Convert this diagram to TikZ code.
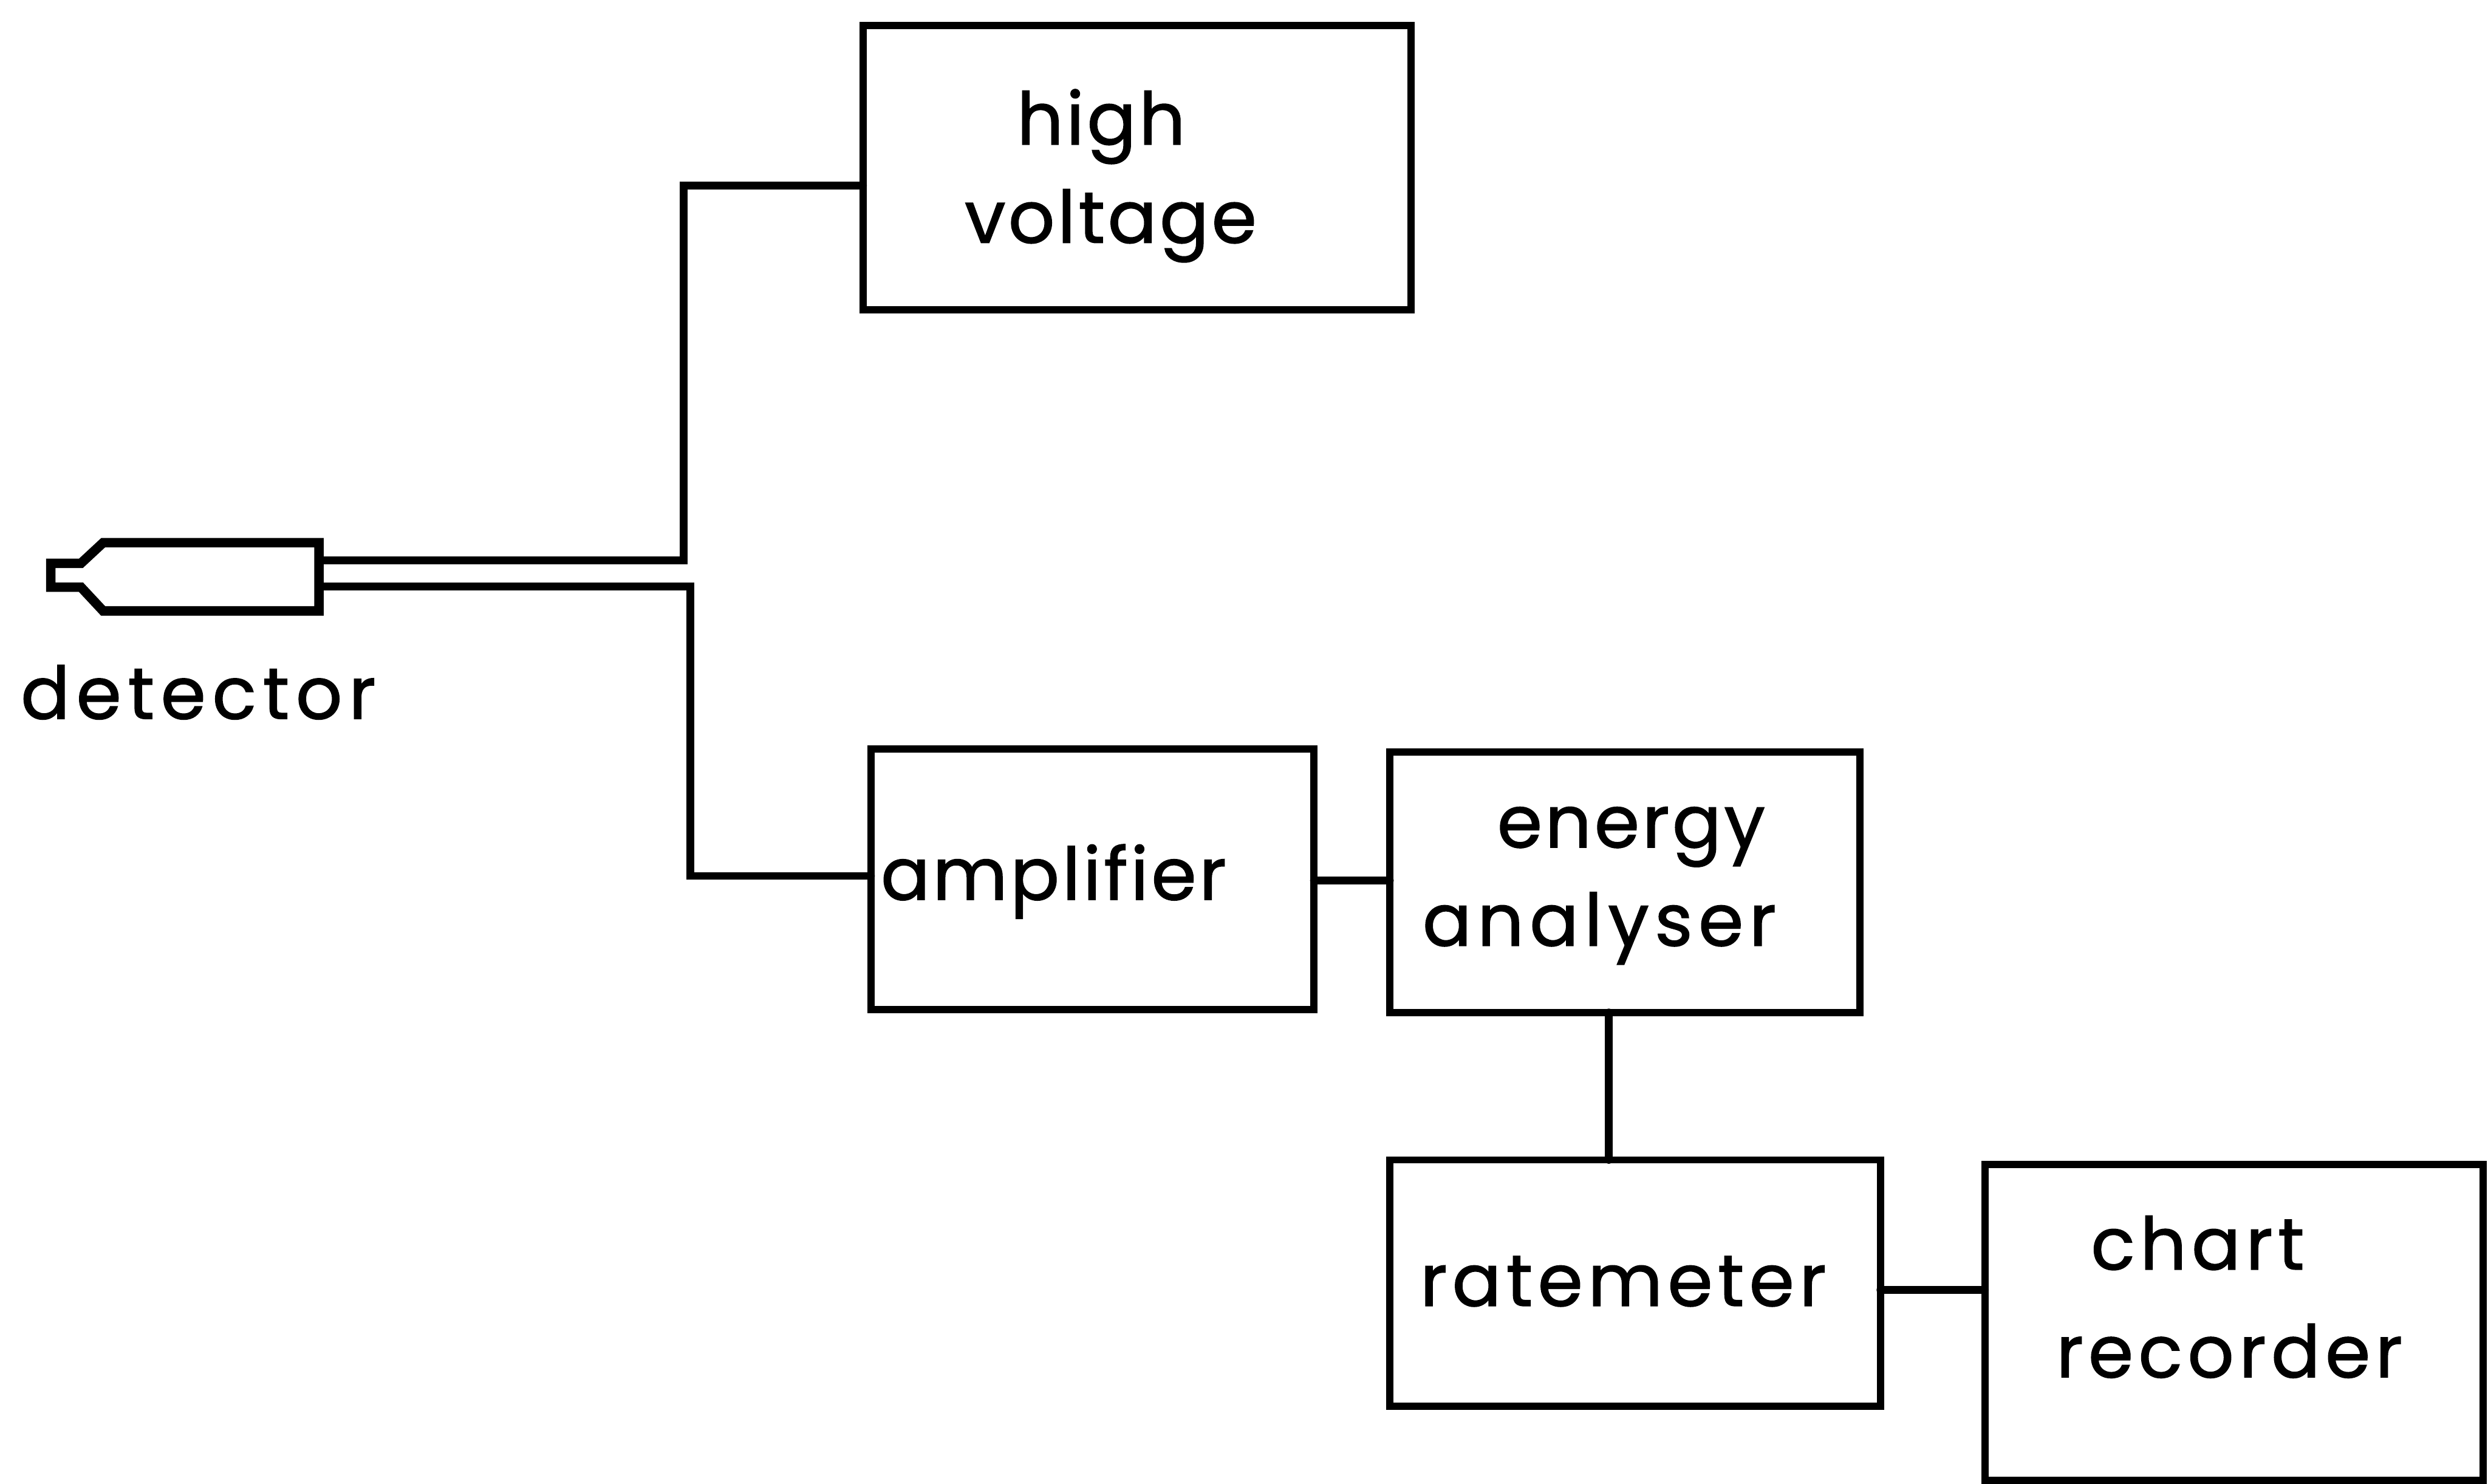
\documentclass[tikz,border=0pt]{standalone}
\usepackage{fontspec}
\setmainfont{Poppins}
\begin{document}
\begin{tikzpicture}[x=0.01cm,y=-0.01cm,
  blockbox/.style={draw=black,line width=1.3pt,rectangle,inner sep=0pt,outer sep=0pt},
  wire/.style={draw=black,line width=1.4pt,line cap=round,line join=miter},
  body/.style={draw=black,line width=1.7pt,line join=miter},
  lab/.style={font=\fontsize{13}{15}\selectfont\addfontfeatures{FakeBold=1.3,LetterSpace=#1},inner sep=0pt,anchor=base},
  lab/.default=4]
\useasboundingbox (0,0) rectangle (1568,935);
\node[blockbox,minimum width=3.45cm,minimum height=1.79cm] (hv) at (716.5,105.5) {};
\node[blockbox,minimum width=2.79cm,minimum height=1.64cm] (amp) at (688.5,554) {};
\node[blockbox,minimum width=2.96cm,minimum height=1.64cm] (ea) at (1024,556) {};
\node[blockbox,minimum width=3.09cm,minimum height=1.55cm] (rate) at (1030.5,808.5) {};
\node[blockbox,minimum width=3.14cm,minimum height=1.99cm] (chart) at (1408,833.5) {};
\node[lab] (t1) at (694,91) {high};
\node[lab] (t2) at (700,153) {voltage};
\node[lab] (t3) at (664,567) {amplifier};
\node[lab] (t4) at (1028,534) {energy};
\node[lab=8] (t5) at (1008,596) {analyser};
\node[lab=7] (t6) at (1023,823) {ratemeter};
\node[lab=7] (t7) at (1385,800) {chart};
\node[lab=7] (t8) at (1405,868) {recorder};
\node[lab=9] (t9) at (125,453) {detector};
% detector
\draw[body] (201,342) -- (65,342) -- (51,355) -- (32,355) -- (32,370) -- (51,370) -- (65,385) -- (201,385) -- cycle;
\coordinate (dtop) at (201,353);
\coordinate (dbot) at (201,369.5);
\coordinate (ja) at (431,353);
\coordinate (jb) at (431,117);
\coordinate (jc) at (435,369.5);
\coordinate (jd) at (435,552);
\coordinate (ae) at (850,555);
\coordinate (er) at (1014,680);
\coordinate (rc) at (1218,813);
\draw[wire] (dtop) -- (ja) -- (jb) -- (jb -| hv.west);
\draw[wire] (dbot) -- (jc) -- (jd) -- (jd -| amp.west);
\draw[wire] (ae -| amp.east) -- (ae -| ea.west);
\draw[wire] (er |- ea.south) -- (er |- rate.north);
\draw[wire] (rc -| rate.east) -- (rc -| chart.west);
\end{tikzpicture}
\end{document}
